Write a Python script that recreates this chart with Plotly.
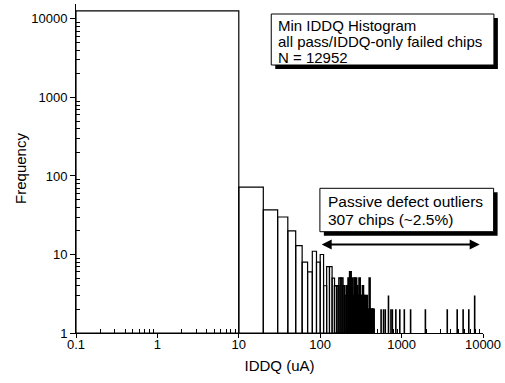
import math
import plotly.graph_objects as go

# ---------------- data ----------------
main_bin_lo = 0.1
main_bin_hi = 10
main_count = 12645

bin_width = 10
bin_left = [10, 20, 30, 40, 50, 60, 70, 80, 90, 100,
            110, 120, 130, 140, 150, 160, 170, 180, 190, 200,
            210, 220, 230, 240, 250, 260, 270, 280, 290, 300,
            310, 320, 330, 340, 350, 360, 370, 380, 390, 400,
            410, 420, 430, 440, 450,
            560, 600, 630, 690, 740, 770, 850, 950, 1080, 1290,
            1960, 3640, 4820, 5700, 6690, 7900]
counts = [72, 37, 30, 20, 13, 8, 6, 11, 8, 10,
          4, 7, 7, 5, 4, 4, 5, 5, 4, 3,
          4, 5, 6, 5, 3, 5, 5, 4, 3, 5,
          3, 3, 4, 3, 3, 2, 3, 2, 2, 5,
          2, 2, 2, 2, 2,
          2, 2, 2, 3, 2, 2, 2, 2, 2, 2,
          2, 2, 2, 2, 2, 3]

x_tickvals = [0.1, 1, 10, 100, 1000, 10000]
x_ticktext = ["0.1", "1", "10", "100", "1000", "10000"]
y_tickvals = [1, 10, 100, 1000, 10000]
y_ticktext = ["1", "10", "100", "1000", "10000"]

box1_lines = ["Min IDDQ Histogram", "all pass/IDDQ-only failed chips", "N = 12952"]
box2_lines = ["Passive defect outliers", "307 chips (~2.5%)"]

# ---------------- layout geometry (pixels) ----------------
W, H = 505, 383
ML, MR, MT, MB = 76, 19, 4, 50
PW, PH = W - ML - MR, H - MT - MB


def px(p):
    return (p - ML) / PW


def py(p):
    return (H - MB - p) / PH


FONT = "Liberation Sans, Arial, Helvetica, sans-serif"

# ---------------- histogram outline paths ----------------
lefts = [main_bin_lo] + bin_left
rights = [main_bin_hi] + [b + bin_width for b in bin_left]
vals = [main_count] + counts


def outline(sel):
    xs, ys = [], []
    for lo, hi, c in zip(lefts, rights, vals):
        if sel(lo):
            xs += [lo, lo, hi, hi, lo, None]
            ys += [1, c, c, 1, 1, None]
    return xs, ys


fig = go.Figure()
for sel, lw in [(lambda lo: lo < 150, 1.2), (lambda lo: lo >= 150, 1.6)]:
    xs, ys = outline(sel)
    fig.add_trace(go.Scatter(
        x=xs, y=ys, mode="lines", fill="toself", fillcolor="white",
        line=dict(color="black", width=lw), hoverinfo="skip", showlegend=False,
    ))

minor_x = [m * 10 ** e for e in range(-1, 4) for m in range(2, 10)]
minor_y = [m * 10 ** e for e in range(0, 5) for m in range(2, 10)]

fig.update_layout(
    width=W, height=H,
    margin=dict(l=ML, r=MR, t=MT, b=MB, pad=0),
    paper_bgcolor="white", plot_bgcolor="white",
    font=dict(family=FONT, color="black", size=13),
    showlegend=False,
    xaxis=dict(
        type="log", range=[-1, 4], showgrid=False, zeroline=False,
        showline=True, linecolor="black", linewidth=1,
        ticks="outside", ticklen=4, tickwidth=1, tickcolor="black",
        tickvals=x_tickvals, ticktext=x_ticktext,
        tickfont=dict(size=13), ticklabelstandoff=-5,
        minor=dict(tickvals=minor_x, ticks="inside", ticklen=4,
                   tickcolor="black", tickwidth=1, showgrid=False),
        title=dict(text="IDDQ (uA)", font=dict(size=15), standoff=9),
    ),
    yaxis=dict(
        type="log", range=[0, 4.19], showgrid=False, zeroline=False,
        showline=True, linecolor="black", linewidth=1,
        ticks="outside", ticklen=5, tickwidth=1, tickcolor="black",
        tickvals=y_tickvals, ticktext=y_ticktext,
        tickfont=dict(size=13),
        minor=dict(tickvals=minor_y, ticks="inside", ticklen=4,
                   tickcolor="black", tickwidth=1, showgrid=False),
        title=dict(text="Frequency", font=dict(size=15), standoff=0),
    ),
)

# ---------------- text boxes with drop shadows ----------------
SH = 4
shapes = []
for (l, t, r, b) in [(272.7, 14, 497, 65), (321.7, 188.3, 496.7, 231.7)]:
    shapes.append(dict(type="rect", xref="paper", yref="paper",
                       x0=px(l + SH), x1=px(r + SH), y0=py(b + SH), y1=py(t + SH),
                       fillcolor="black", line=dict(width=0), layer="above"))
    shapes.append(dict(type="rect", xref="paper", yref="paper",
                       x0=px(l), x1=px(r), y0=py(b), y1=py(t),
                       fillcolor="white", line=dict(color="black", width=1), layer="above"))
fig.update_layout(shapes=shapes)

annos = []
for txt, yc in zip(box1_lines, [26.0, 42.0, 58.0]):
    annos.append(dict(text=txt, xref="paper", yref="paper", x=px(279.5), y=py(yc),
                      xanchor="left", yanchor="middle", showarrow=False,
                      borderpad=0, borderwidth=0, font=dict(size=15, family=FONT)))
for txt, yc in zip(box2_lines, [201.0, 219.0]):
    annos.append(dict(text=txt, xref="paper", yref="paper", x=px(329.5), y=py(yc),
                      xanchor="left", yanchor="middle", showarrow=False,
                      borderpad=0, borderwidth=0, font=dict(size=15.5, family=FONT)))

# double-headed arrow spanning the outlier range
arrow_lo, arrow_hi, arrow_y = 100, 9100, 13.4
annos.append(dict(text="", x=math.log10(arrow_hi), y=math.log10(arrow_y),
                  ax=math.log10(arrow_lo), ay=math.log10(arrow_y),
                  xref="x", yref="y", axref="x", ayref="y",
                  showarrow=True, arrowhead=2, startarrowhead=2, arrowside="end+start",
                  arrowsize=1, startarrowsize=1, arrowwidth=2, arrowcolor="black"))
fig.update_layout(annotations=annos)

fig.write_html("out.html")
